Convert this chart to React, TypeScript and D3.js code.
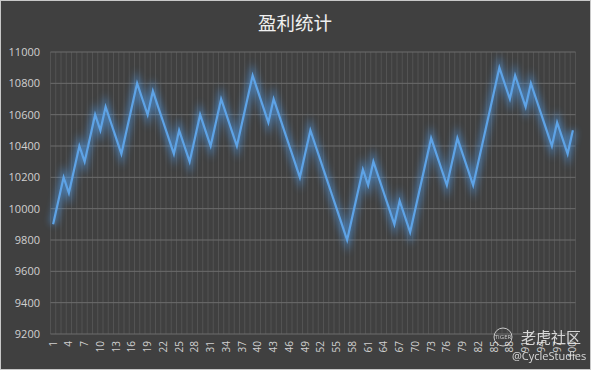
import React from 'react'
import * as d3 from 'd3'

// 盈利统计 — values, one per category (1..100)
const categories: number[] = d3.range(1, 101)

const profit: number[] = [
    9900, 10050, 10200, 10100, 10250, 10400, 10300, 10450, 10600, 10500,
    10650, 10550, 10450, 10350, 10500, 10650, 10800, 10700, 10600, 10750,
    10650, 10550, 10450, 10350, 10500, 10400, 10300, 10450, 10600, 10500,
    10400, 10550, 10700, 10600, 10500, 10400, 10550, 10700, 10850, 10750,
    10650, 10550, 10700, 10600, 10500, 10400, 10300, 10200, 10350, 10500,
    10400, 10300, 10200, 10100, 10000, 9900, 9800, 9950, 10100, 10250,
    10150, 10300, 10200, 10100, 10000, 9900, 10050, 9950, 9850, 10000,
    10150, 10300, 10450, 10350, 10250, 10150, 10300, 10450, 10350, 10250,
    10150, 10300, 10450, 10600, 10750, 10900, 10800, 10700, 10850, 10750,
    10650, 10800, 10700, 10600, 10500, 10400, 10550, 10450, 10350, 10500
]

const yTicks: number[] = [9200, 9400, 9600, 9800, 10000, 10200, 10400, 10600, 10800, 11000]
const xTickLabels: number[] = categories.filter((c) => (c - 1) % 3 === 0)

const title = '盈利统计'

const width = 591
const height = 370
const plot = { left: 50.5, right: 575.5, top: 52, bottom: 334 }

const LineChart = () => {
    const x = d3.scaleBand<number>()
        .domain(categories)
        .range([plot.left, plot.right])
    const y = d3.scaleLinear()
        .domain([9200, 11000])
        .range([plot.bottom, plot.top])

    const line = d3.line<number>()
        .x((_, i) => (x(categories[i]) as number) + x.bandwidth() / 2)
        .y((d) => y(d))

    const path = line(profit) as string
    const gridBounds = categories.map((c) => x(c) as number).concat([plot.right])

    return (
        <svg width={width} height={height} style={{ position: 'fixed', left: 0, top: 0 }}>
            <defs>
                <filter id='glow' x='-10%' y='-10%' width='120%' height='120%'>
                    <feGaussianBlur in='SourceGraphic' stdDeviation='3.5' result='blur' />
                </filter>
            </defs>
            <rect x={0.5} y={0.5} width={width - 1} height={height - 1} fill='#404040' stroke='#c8c8c8' />

            <text
                x={295}
                y={30}
                fill='#f0f0f0'
                fontSize={18.5}
                textAnchor='middle'
                fontFamily='"Noto Sans CJK SC", sans-serif'
            >
                {title}
            </text>

            {/* vertical gridlines, one per category boundary */}
            <g>
                {gridBounds.map((gx, i) => (
                    <line key={i} x1={gx} x2={gx} y1={plot.top} y2={plot.bottom} stroke='#585858' strokeWidth={0.8} />
                ))}
            </g>

            {/* horizontal gridlines and y labels */}
            <g>
                {yTicks.map((t) => (
                    <g key={t}>
                        <line x1={plot.left} x2={plot.right} y1={y(t)} y2={y(t)} stroke='#6c6c6c' strokeWidth={1} />
                        <text
                            x={40}
                            y={y(t)}
                            dy='0.35em'
                            textAnchor='end'
                            fill='#d0d0d0'
                            fontSize={11}
                            fontFamily='"Open Sans", sans-serif'
                        >
                            {t}
                        </text>
                    </g>
                ))}
            </g>

            {/* x labels, rotated */}
            <g>
                {xTickLabels.map((c) => {
                    const cx = (x(c) as number) + x.bandwidth() / 2
                    return (
                        <text
                            key={c}
                            transform={`translate(${cx}, 341) rotate(-90)`}
                            dy='0.35em'
                            textAnchor='end'
                            fill='#d0d0d0'
                            fontSize={10}
                            fontFamily='"Open Sans", sans-serif'
                        >
                            {c}
                        </text>
                    )
                })}
            </g>

            {/* the series, with a soft glow under it */}
            <path d={path} fill='none' stroke='#4f9be8' strokeWidth={7} opacity={0.6} filter='url(#glow)' />
            <path d={path} fill='none' stroke='#5ea3e6' strokeWidth={2.2} strokeLinejoin='miter' />

            {/* watermark */}
            <g opacity={0.85}>
                <circle cx={503} cy={337} r={9} fill='none' stroke='#e0e0e0' strokeWidth={1} />
                <text x={503} y={339} textAnchor='middle' fill='#e0e0e0' fontSize={6} fontFamily='"Open Sans", sans-serif'>TIGER</text>
                <text x={521} y={343} fill='#f0f0f0' fontSize={15} fontFamily='"Noto Sans CJK SC", sans-serif'>老虎社区</text>
                <text x={512} y={360} fill='#f0f0f0' fontSize={11} fontFamily='"Open Sans", sans-serif'>@CycleStudies</text>
            </g>
        </svg>
    )
}

export default function App () {
    return <LineChart />
}
